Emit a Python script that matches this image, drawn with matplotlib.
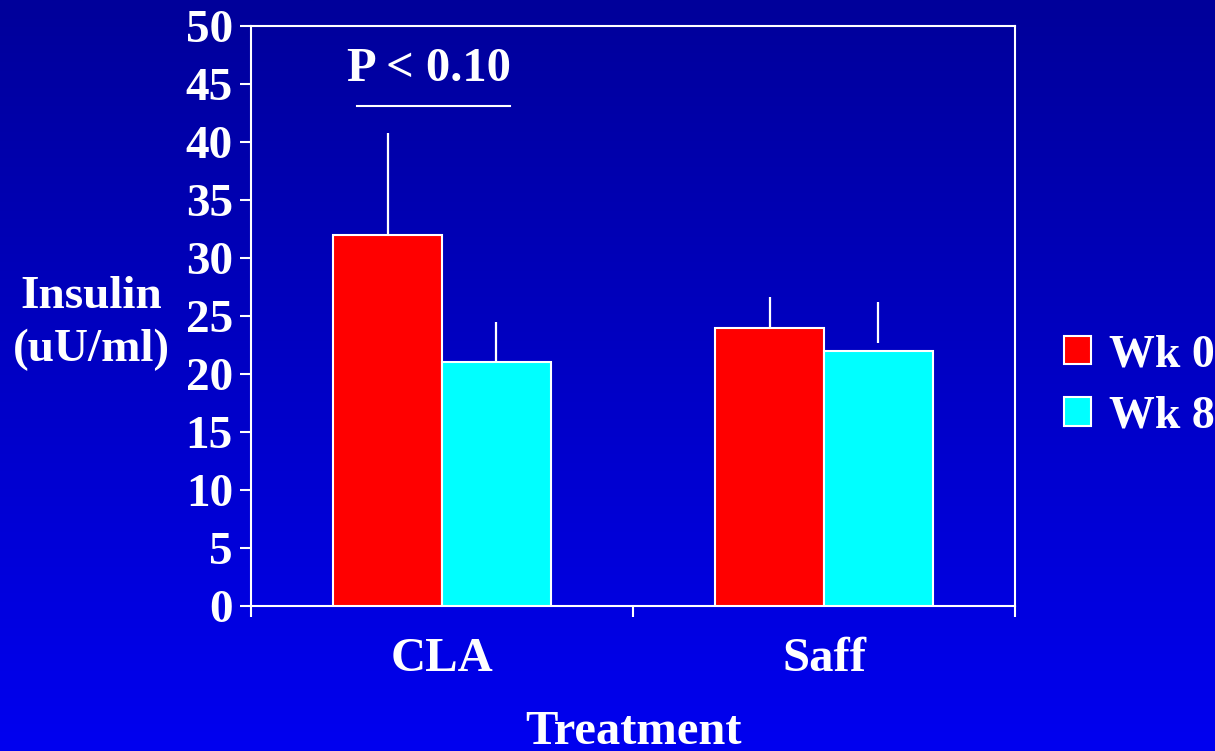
import numpy as np
import matplotlib
matplotlib.use("Agg")
import matplotlib.pyplot as plt
from matplotlib.patches import Patch

# Insulin by treatment, baseline vs week 8
treatments = ["CLA", "Saff"]
series = ["Wk 0", "Wk 8"]
wk0 = [32, 24]
wk8 = [21, 22]
# error whiskers drawn as (low, high) pairs
wk0_err_low = [32.1, 22.8]
wk0_err_high = [40.8, 26.6]
wk8_err_low = [20.8, 22.7]
wk8_err_high = [24.5, 26.2]
yticks = [0, 5, 10, 15, 20, 25, 30, 35, 40, 45, 50]
sig_text = "P < 0.10"
sig_level = 43.1

colors = ["#FF0000", "#00FFFF"]
plt.rcParams["font.family"] = ["Liberation Serif", "DejaVu Serif"]
plt.rcParams["font.weight"] = "bold"
plt.rcParams["axes.labelweight"] = "bold"

fig = plt.figure(figsize=(12.15, 7.51), dpi=100)
W, H = 1215, 751

# blue vertical gradient background
bg = fig.add_axes([0, 0, 1, 1], zorder=-10)
grad = np.linspace(0, 1, 256).reshape(-1, 1)
top = np.array([0, 0, 154]) / 255
bot = np.array([0, 0, 240]) / 255
img = top + (bot - top) * grad[..., None]
img = img.repeat(2, axis=1)
bg.imshow(img, aspect="auto", extent=[0, 1, 0, 1], origin="upper")
bg.set_axis_off()

L, R, T, B = 251, 1015, 26, 606
ax = fig.add_axes([L / W, 1 - B / H, (R - L) / W, (B - T) / H])
ax.set_facecolor("none")

centers = np.array([0.5, 1.5])
bw = 0.285
for vals, lo, hi, off, c, lab in [
    (wk0, wk0_err_low, wk0_err_high, -bw / 2, colors[0], series[0]),
    (wk8, wk8_err_low, wk8_err_high, bw / 2, colors[1], series[1]),
]:
    xs = centers + off
    ax.bar(xs, vals, width=bw, color=c, edgecolor="white", linewidth=1.5, label=lab, zorder=3)
    ax.vlines(xs, lo, hi, colors="white", linewidth=1.6, zorder=2)

ax.set_xlim(0, 2)
ax.set_ylim(0, 50)
ax.set_yticks(yticks)
ax.set_yticklabels([str(v) for v in yticks])
ax.set_xticks([0, 1, 2])
ax.set_xticklabels([])
ax.set_xticks(centers, minor=True)
ax.set_xticklabels(treatments, minor=True)
ax.tick_params(axis="x", which="minor", length=0, pad=22, labelsize=35, labelcolor="white")
ax.tick_params(axis="x", which="major", length=8, width=1.5, color="white")
ax.tick_params(axis="y", length=8, width=1.5, color="white", pad=5, labelsize=34, labelcolor="white")
for s in ax.spines.values():
    s.set_color("white")
    s.set_linewidth(1.5)

fig.text(634 / W, 1 - 744 / H, "Treatment", ha="center", va="baseline",
         fontsize=35, color="white")
ax.set_ylabel("Insulin\n(uU/ml)", fontsize=34, color="white", rotation=0,
              ha="center", va="center", linespacing=1.35)
ax.yaxis.set_label_coords(-0.209, 0.487)

# significance bracket
ax.plot([0.277, 0.678], [sig_level, sig_level], color="white", linewidth=1.5, clip_on=False)
ax.text(0.465, 45.26, sig_text, ha="center", va="baseline", fontsize=35, color="white")

handles = [Patch(facecolor=colors[0], edgecolor="white", linewidth=1.5),
           Patch(facecolor=colors[1], edgecolor="white", linewidth=1.5)]
leg = fig.legend(handles, series, loc="center left", bbox_to_anchor=(1064 / W, 1 - 386 / H),
                 frameon=False, fontsize=33, handlelength=0.58, handleheight=0.58,
                 handletextpad=0.4, labelspacing=0.42, borderaxespad=0, borderpad=0)
for t in leg.get_texts():
    t.set_color("white")

fig.savefig("out.png", dpi=100)
